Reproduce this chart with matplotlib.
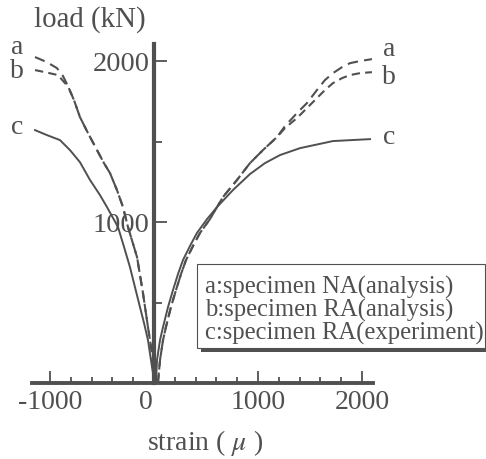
import numpy as np
import matplotlib.pyplot as plt
from matplotlib.patches import Rectangle
from matplotlib.ticker import FixedLocator, MultipleLocator

plt.rcParams['font.family'] = 'Liberation Serif'
plt.rcParams['mathtext.fontset'] = 'stix'

grey = '#505050'

# left gauge (compression side), strain in micro, load in kN
a_left_x = [-1144, -1029, -933, -875, -827, -769, -712, -635, -548, -481, -423, -356,
            -298, -250, -163, -106, -58, -19, 0, 19]
a_left_y = [2025, 1993, 1956, 1907, 1844, 1757, 1652, 1553, 1447, 1366, 1304, 1199,
            1093, 969, 782, 559, 348, 186, 81, 0]
b_left_x = [-1144, -1048, -923, -856, -827, -769, -712, -635, -548, -481, -423, -356,
            -298, -250, -163, -106, -58, -19, 0, 19]
b_left_y = [1944, 1931, 1913, 1863, 1844, 1757, 1652, 1553, 1447, 1366, 1304, 1199,
            1093, 969, 782, 559, 348, 186, 81, 0]
c_left_x = [-1144, -1029, -904, -808, -712, -615, -519, -452, -346, -288, -231, -183,
            -135, -96, -58, -29, -10, 10]
c_left_y = [1571, 1540, 1509, 1447, 1372, 1261, 1167, 1093, 969, 845, 720, 596,
            472, 373, 267, 143, 62, 0]

# right gauge (tension side)
a_right_x = [38, 58, 87, 115, 163, 212, 260, 308, 375, 442, 538, 663, 798, 923, 1048,
             1183, 1260, 1375, 1471, 1567, 1644, 1721, 1808, 1885, 1981, 2096]
a_right_y = [0, 143, 267, 348, 472, 578, 677, 764, 851, 932, 1018, 1155, 1261, 1366, 1447,
             1528, 1596, 1677, 1739, 1820, 1882, 1925, 1962, 1987, 2000, 2012]
b_right_x = [38, 58, 87, 115, 163, 212, 260, 308, 375, 442, 538, 663, 798, 923, 1048,
             1183, 1260, 1375, 1471, 1567, 1644, 1721, 1808, 1885, 1981, 2096]
b_right_y = [0, 143, 267, 348, 472, 578, 677, 764, 851, 932, 1018, 1155, 1261, 1366, 1447,
             1528, 1584, 1646, 1708, 1770, 1820, 1863, 1894, 1913, 1925, 1931]
c_right_x = [19, 29, 58, 87, 135, 183, 231, 279, 346, 413, 510, 606, 760, 923, 1067,
             1212, 1404, 1721, 2077]
c_right_y = [0, 143, 267, 348, 472, 578, 677, 764, 851, 932, 1018, 1093, 1199, 1298, 1366,
             1416, 1459, 1503, 1515]

legend_lines = ['a:specimen NA(analysis)',
                'b:specimen RA(analysis)',
                'c:specimen RA(experiment)']

W, H = 486, 459
fig = plt.figure(figsize=(W / 100, H / 100), dpi=100)
ax = fig.add_axes([32 / W, 1 - 383 / H, 341 / W, 339 / H])
ax.set_xlim(-1173, 2106)
ax.set_ylim(0, 2106)

ax.plot(a_left_x, a_left_y, color=grey, lw=1.5, dashes=(5, 3))
ax.plot(a_right_x, a_right_y, color=grey, lw=1.5, dashes=(5, 3))
ax.plot(b_left_x, b_left_y, color=grey, lw=1.5, dashes=(4, 2.5))
ax.plot(b_right_x, b_right_y, color=grey, lw=1.5, dashes=(4, 2.5))
ax.plot(c_left_x, c_left_y, color=grey, lw=1.4)
ax.plot(c_right_x, c_right_y, color=grey, lw=1.4)

for s in ['top', 'right']:
    ax.spines[s].set_visible(False)
ax.spines['left'].set_position(('data', 0))
ax.spines['left'].set_linewidth(3)
ax.spines['bottom'].set_linewidth(2.8)
ax.spines['left'].set_color(grey)
ax.spines['bottom'].set_color(grey)

ax.xaxis.set_major_locator(FixedLocator([-1000, 0, 1000, 2000]))
ax.xaxis.set_minor_locator(MultipleLocator(200))
ax.set_xticklabels(['-1000', '', '1000', '2000'])
ax.yaxis.set_major_locator(FixedLocator([1000, 2000]))
ax.yaxis.set_minor_locator(FixedLocator([500, 1500]))

ax.tick_params(axis='x', which='major', direction='in', length=9, width=1.3,
               colors=grey, labelsize=20, pad=5)
ax.tick_params(axis='x', which='minor', direction='in', length=4.5, width=1.3, colors=grey)
ax.tick_params(axis='y', which='major', direction='in', length=9, width=1.3,
               colors=grey, labelsize=20.5, pad=3)
ax.tick_params(axis='y', which='minor', direction='in', length=6, width=1.3, colors=grey)

ax.annotate('0', xy=(0, 0), xytext=(-5.5, -5), textcoords='offset points',
            ha='center', va='top', fontsize=20, color=grey)

fig.text(90 / W, 1 - 20 / H, 'load (kN)', ha='center', va='center', fontsize=20.8, color=grey)
fig.text(205 / W, 1 - 443 / H, 'strain ( $\\mu$ )', ha='center', va='center',
         fontsize=20, color=grey)

# curve letters
for lab, px, py in [('a', 17, 47), ('b', 17, 72), ('c', 17, 127),
                    ('a', 389, 50), ('b', 389, 77), ('c', 389, 138)]:
    fig.text(px / W, 1 - py / H, lab, ha='center', va='center', fontsize=20, color=grey)

# legend box with shadow
fig.add_artist(Rectangle((201 / W, 1 - 352 / H), 288 / W, 84 / H, transform=fig.transFigure,
                         facecolor=grey, edgecolor='none'))
fig.add_artist(Rectangle((197 / W, 1 - 348 / H), 288 / W, 84 / H, transform=fig.transFigure,
                         facecolor='white', edgecolor=grey, lw=0.8))
for i, line in enumerate(legend_lines):
    fig.text(205 / W, 1 - (287 + 23 * i) / H, line, ha='left', va='center',
             fontsize=17.7, color=grey)

fig.savefig('out.png', dpi=100)
